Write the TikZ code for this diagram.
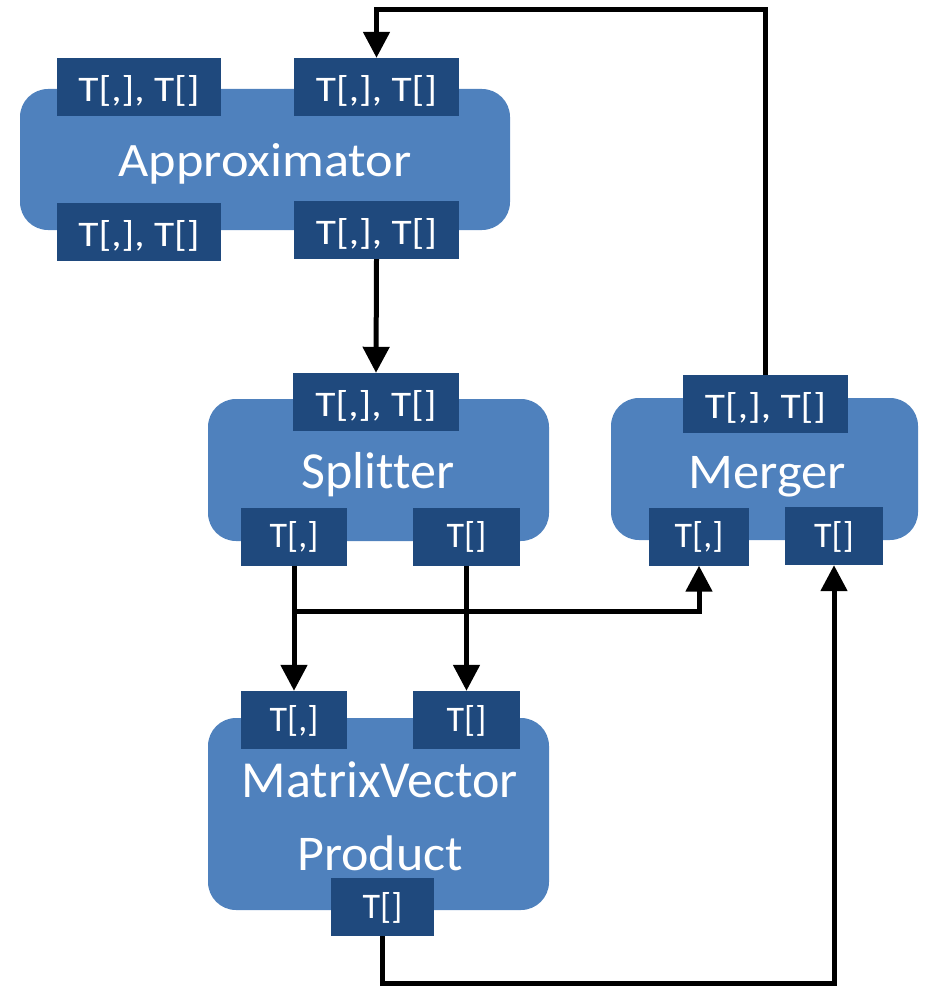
\documentclass[tikz,border=0pt]{standalone}
\usepackage{fontspec}
\setmainfont{Carlito}[Ligatures=NoCommon]
\usepackage{graphicx}
\usetikzlibrary{arrows.meta}
\definecolor{boxblue}{HTML}{4F81BD}
\definecolor{portblue}{HTML}{1F497D}
\newcommand\pairlbl{\scalebox{1.15}[1]{T[,], T[]}}
\begin{document}
\begin{tikzpicture}[x=1pt,y=-1pt,
  block/.style={fill=boxblue, rounded corners=28pt, inner sep=0pt},
  portbase/.style={fill=portblue, text=white, inner sep=0pt, minimum height=58pt,
    text depth=0pt, font=\fontsize{36}{40}\selectfont},
  wideport/.style={portbase, minimum width=165pt, text height=29pt},
  smallport/.style={portbase, text height=22pt},
  title/.style={text=white, inner sep=0pt, anchor=base},
  conn/.style={line width=5pt, -{Triangle[length=26pt,width=26pt]}}
]
\useasboundingbox (0,0) rectangle (927,987);

% component blocks
\node[block, minimum width=490pt, minimum height=141pt] (apx) at (265,159.5) {};
\node[block, minimum width=341pt, minimum height=142pt] (spl) at (378.5,470) {};
\node[block, minimum width=307pt, minimum height=142pt] (mrg) at (764.5,469) {};
\node[block, minimum width=341pt, minimum height=192pt] (mv)  at (378.5,814) {};

% block titles
\node[title, font=\fontsize{48}{52}\selectfont] (apx-t) at (265,177) {\scalebox{1.09}[1]{Approximator}};
\node[title, font=\fontsize{52}{56}\selectfont] (spl-t) at (378,488) {Splitter};
\node[title, font=\fontsize{50}{54}\selectfont] (mrg-t) at (767,488) {\scalebox{1.05}[1]{Merger}};
\node[title, font=\fontsize{52}{56}\selectfont] (mv-t1) at (380,797) {MatrixVector};
\node[title, font=\fontsize{50}{54}\selectfont] (mv-t2) at (380,870) {\scalebox{1.04}[1]{Product}};

% Approximator ports
\node[wideport, minimum width=164pt] (apx-in1)  at (139,87)    {\pairlbl};
\node[wideport]                      (apx-in2)  at (376.5,87)  {\pairlbl};
\node[wideport, minimum width=164pt] (apx-out1) at (139,232)   {\pairlbl};
\node[wideport]                      (apx-out2) at (376.5,230) {\pairlbl};

% Splitter ports
\node[wideport, minimum width=166pt] (spl-in) at (376,402)    {\pairlbl};
\node[smallport, minimum width=106pt] (spl-a) at (294,536.5)  {T[,]};
\node[smallport, minimum width=107pt] (spl-b) at (466.5,536.5) {T[]};

% Merger ports
\node[wideport] (mrg-out) at (765.5,404) {\pairlbl};
\node[smallport, minimum width=100pt] (mrg-a) at (699,536.5) {T[,]};
\node[smallport, minimum width=98pt]  (mrg-b) at (834,536)   {T[]};

% MatrixVector Product ports
\node[smallport, minimum width=106pt] (mv-a)   at (294,720)   {T[,]};
\node[smallport, minimum width=107pt] (mv-b)   at (466.5,720) {T[]};
\node[smallport, minimum width=103pt] (mv-out) at (382.5,907) {T[]};

% data flow
\draw[conn] (apx-out2.south) -- (spl-in.north);
\draw[conn] (spl-a.south) -- (mv-a.north);
\draw[conn] (spl-b.south) -- (mv-b.north);
\draw[conn] (spl-a.south) ++(0,46) -| (mrg-a.south);
\draw[conn] (mrg-out.north) -- ++(0,-365) -| (apx-in2.north);
\draw[conn] (mv-out.south) -- ++(0,47) -| (mrg-b.south);
\end{tikzpicture}
\end{document}
